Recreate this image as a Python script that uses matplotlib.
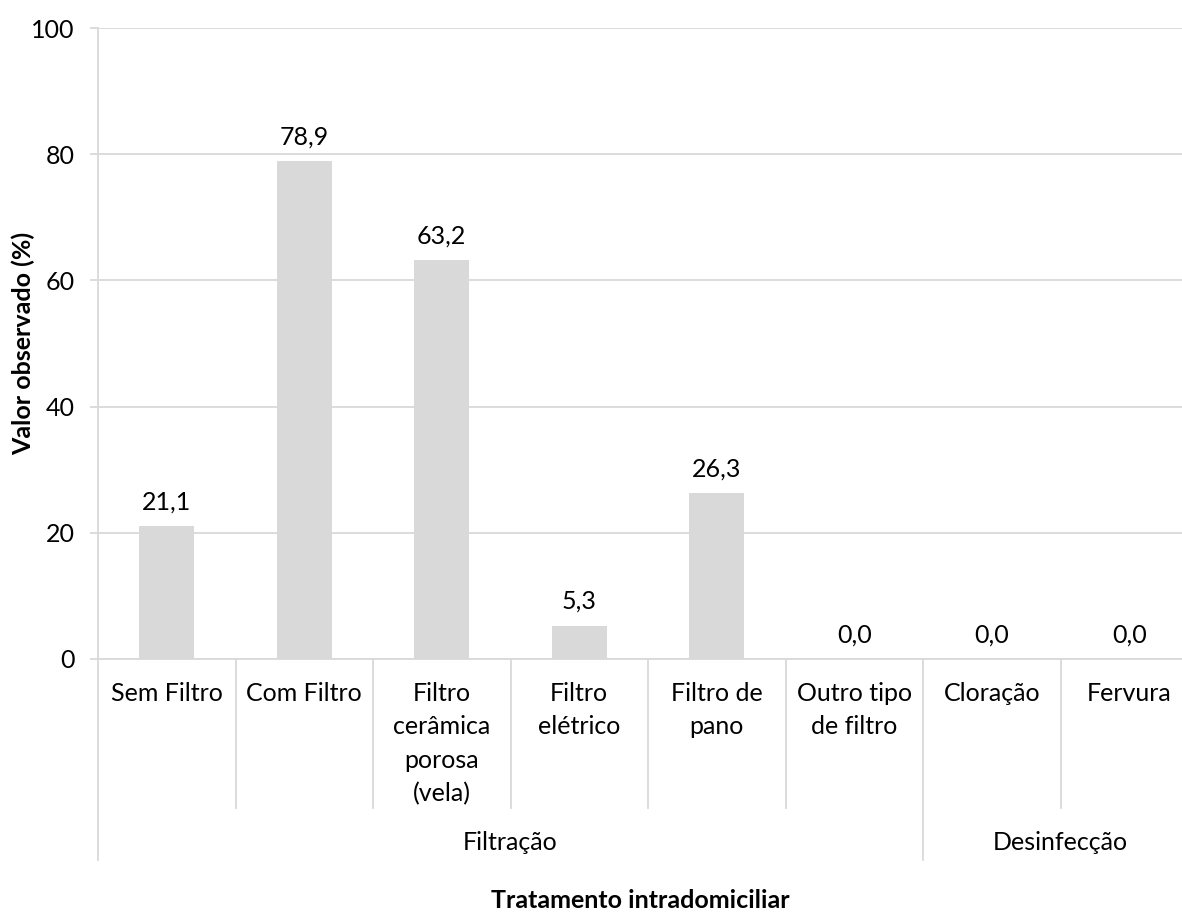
import numpy as np
import matplotlib
matplotlib.use('Agg')
import matplotlib.pyplot as plt

plt.rcParams['font.family'] = ['Lato', 'DejaVu Sans']

# Data
categories = ['Sem Filtro', 'Com Filtro', 'Filtro\ncerâmica\nporosa\n(vela)',
              'Filtro\nelétrico', 'Filtro de\npano', 'Outro tipo\nde filtro',
              'Cloração', 'Fervura']
values = [21.1, 78.9, 63.2, 5.3, 26.3, 0.0, 0.0, 0.0]
groups = ['Filtração', 'Desinfecção']
group_sizes = [6, 2]

grey = '#d9d9d9'
fs = 18

fig = plt.figure(figsize=(11.82, 9.14), dpi=100)
ax = fig.add_axes([98/1182, 1 - 659/914, 1100/1182, 631/914])

x = np.arange(len(categories))
ax.bar(x, values, width=0.4, color=grey, zorder=2)

for xi, v in zip(x, values):
    ax.annotate(f'{v:.1f}'.replace('.', ','), (xi, v), xytext=(0, 12),
                textcoords='offset points', ha='center', va='baseline',
                fontsize=fs, color='black')

ax.set_ylim(0, 100)
ax.set_xlim(-0.5, len(categories) - 0.5)
ax.set_yticks([0, 20, 40, 60, 80, 100])
ax.yaxis.grid(True, color=grey, linewidth=1.3, zorder=0)
ax.tick_params(axis='y', length=6, color=grey, width=1.3, pad=11,
               labelsize=fs)

ax.set_xticks(x)
ax.set_xticklabels(categories, fontsize=fs, linespacing=1.55)
ax.tick_params(axis='x', length=0, pad=16.5)

for s in ['top', 'right']:
    ax.spines[s].set_visible(False)
for s in ['left', 'bottom']:
    ax.spines[s].set_color(grey)
    ax.spines[s].set_linewidth(1.3)

# multi-level category axis
trans = ax.get_xaxis_transform()
short_end = (659 - 808) / 631
long_end = (659 - 860) / 631
edges = np.cumsum([0] + group_sizes) - 0.5
for b in np.arange(len(categories) + 1) - 0.5:
    if b in edges:
        ax.plot([b, b], [0, long_end], color=grey, lw=1.3,
                transform=trans, clip_on=False)
    else:
        ax.plot([b, b], [0, short_end], color=grey, lw=1.3,
                transform=trans, clip_on=False)
for g, a, b in zip(groups, edges[:-1], edges[1:]):
    ax.text((a + b) / 2, (659 - 842) / 631, g, transform=trans,
            ha='center', va='center', fontsize=fs)

ax.set_ylabel('Valor observado (%)', fontsize=fs, fontweight='bold')
ax.yaxis.set_label_coords((23 - 98) / 1100, 0.5)
ax.yaxis.label.set_verticalalignment('center')
ax.set_xlabel('Tratamento intradomiciliar', fontsize=fs, fontweight='bold')
ax.xaxis.set_label_coords((640 - 98) / 1100, (659 - 908) / 631)
ax.xaxis.label.set_verticalalignment('baseline')

fig.savefig('out.png', dpi=100, facecolor='white')
